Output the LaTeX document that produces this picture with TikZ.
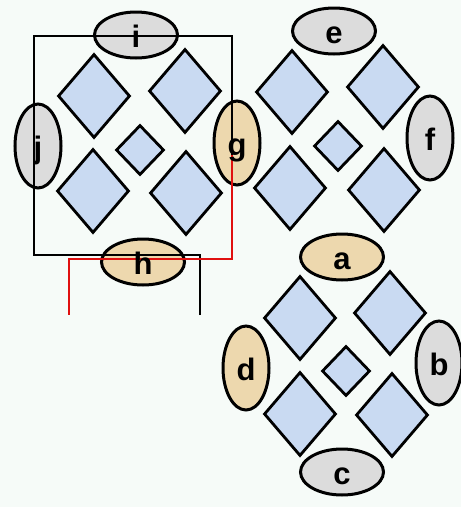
\documentclass[tikz,border=0pt]{standalone}
\usepackage{fontspec}
\setmainfont{Liberation Sans}
\usetikzlibrary{shapes.geometric}
\definecolor{bg}{HTML}{F6FBF8}
\definecolor{tan}{HTML}{EDD8AE}
\definecolor{gry}{HTML}{DCDCDC}
\definecolor{blu}{HTML}{C9DAF2}
\definecolor{wire}{HTML}{E01010}
\tikzset{
  ellH/.style={ellipse, draw=black, line width=3pt, minimum width=83pt, minimum height=46pt, inner sep=0pt},
  ellV/.style={ellipse, draw=black, line width=3pt, minimum width=46pt, minimum height=84pt, inner sep=0pt},
  big/.style={diamond, draw=black, line width=2.8pt, fill=blu, minimum width=72pt, minimum height=84pt, inner sep=0pt},
  small/.style={diamond, draw=black, line width=2.8pt, fill=blu, minimum width=48pt, minimum height=50pt, inner sep=0pt},
  lbl/.style={font=\fontsize{31}{31}\selectfont\bfseries, inner sep=0pt, anchor=base, yshift=-12pt},
  blk/.style={draw=black, line width=2.2pt},
  red/.style={draw=wire, line width=2.2pt},
}
\begin{document}
\begin{tikzpicture}[x=1pt,y=-1pt]
\fill[bg] (0,0) rectangle (461,507);
\useasboundingbox (0,0) rectangle (461,507);
% cluster 1
\node[big] (d1a) at (94,96) {};
\node[big] (d1b) at (185,91) {};
\node[big] (d1c) at (93,191) {};
\node[big] (d1d) at (186,193) {};
\node[small] (d1e) at (140,150) {};
% cluster 2
\node[big] (d2a) at (292,92) {};
\node[big] (d2b) at (383,87) {};
\node[big] (d2c) at (290,188) {};
\node[big] (d2d) at (384,190) {};
\node[small] (d2e) at (338,146) {};
% cluster 3
\node[big] (d3a) at (300,318) {};
\node[big] (d3b) at (390,313) {};
\node[big] (d3c) at (300,414) {};
\node[big] (d3d) at (392,415) {};
\node[small] (d3e) at (346,371) {};
% ellipses
\node[ellH, fill=gry] (Ei) at (136,35) {};
\node[ellV, fill=gry] (Ej) at (38,146) {};
\node[ellV, fill=tan] (Eg) at (237,143) {};
\node[ellH, fill=tan] (Eh) at (143,262) {};
\node[ellH, fill=gry] (Ee) at (334,31) {};
\node[ellV, fill=gry] (Ef) at (430,138) {};
\node[ellH, fill=tan] (Ea) at (342,257) {};
\node[ellV, fill=tan] (Ed) at (246,368) {};
\node[ellV, fill=gry] (Eb) at (439,363) {};
\node[ellH, fill=gry] (Ec) at (342,472) {};
% wires
\coordinate (bEnd) at (200,315);
\coordinate (bA) at (200,255);
\coordinate (bB) at (34,255);
\coordinate (bC) at (34,36);
\coordinate (bD) at (232,36);
\coordinate (gIn) at (232,155);
\coordinate (rA) at (232,259);
\coordinate (rB) at (69,259);
\coordinate (rEnd) at (69,315);
\draw[blk, line join=miter] (bEnd) -- (bA) -- (bB) -- (bC) -- (bD) -- (gIn);
\draw[red] (gIn) -- (rA) -- (rB) -- (rEnd);
% labels
\node[lbl] (Ti) at (Ei) {i};
\node[lbl] (Tj) at (Ej) {j};
\node[lbl] (Tg) at (Eg) {g};
\node[lbl] (Th) at (Eh) {h};
\node[lbl] (Te) at (Ee) {e};
\node[lbl] (Tf) at (Ef) {f};
\node[lbl] (Ta) at (Ea) {a};
\node[lbl] (Td) at (Ed) {d};
\node[lbl] (Tb) at (Eb) {b};
\node[lbl] (Tc) at (Ec) {c};
\end{tikzpicture}
\end{document}
